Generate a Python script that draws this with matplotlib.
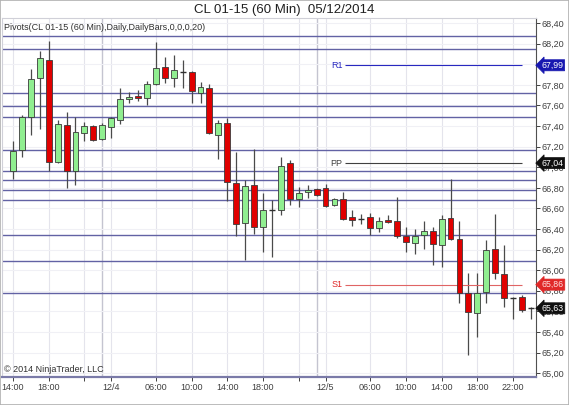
import matplotlib
matplotlib.use('Agg')
import matplotlib.pyplot as plt
import matplotlib.transforms as mtransforms
from matplotlib.patches import Rectangle

plt.rcParams['font.family'] = ['Liberation Sans', 'DejaVu Sans']

# hourly bars, 12/3 14:00 -> 12/5 22:00
opens = [66.96, 67.17, 67.49, 67.87, 68.04, 67.05, 67.41, 66.96, 67.33, 67.40,
         67.27, 67.39, 67.46, 67.66, 67.69, 67.67, 67.81, 67.97, 67.87, 67.92,
         67.92, 67.72, 67.77, 67.31, 67.43, 66.85, 66.46, 66.83, 66.42, 66.58,
         66.58, 67.04, 66.69, 66.76, 66.79, 66.80, 66.63, 66.69, 66.52, 66.50,
         66.52, 66.41, 66.49, 66.48, 66.33, 66.26, 66.34, 66.38, 66.24, 66.51,
         66.30, 65.78, 65.58, 65.79, 66.21, 65.96, 65.73, 65.74, 65.63]
highs = [67.25, 67.51, 67.95, 68.13, 68.23, 67.46, 67.54, 67.49, 67.44, 67.41,
         67.43, 67.49, 67.77, 67.73, 67.75, 67.84, 68.22, 68.07, 68.09, 68.04,
         67.93, 67.83, 67.81, 67.46, 67.48, 67.15, 66.88, 67.18, 66.75, 66.68,
         67.10, 67.07, 66.81, 66.83, 66.80, 66.84, 66.70, 66.76, 66.58, 66.55,
         66.56, 66.52, 66.54, 66.71, 66.42, 66.40, 66.48, 66.42, 66.54, 66.89,
         66.48, 65.97, 65.97, 66.29, 66.55, 66.24, 65.74, 65.76, 65.64]
lows = [66.89, 67.10, 67.31, 67.37, 66.96, 67.04, 66.80, 66.83, 67.25, 67.25,
        67.26, 67.28, 67.42, 67.62, 67.64, 67.60, 67.80, 67.82, 67.78, 67.77,
        67.62, 67.62, 67.32, 67.08, 66.67, 66.33, 66.10, 66.35, 66.18, 66.13,
        66.54, 66.63, 66.61, 66.70, 66.72, 66.61, 66.62, 66.49, 66.43, 66.45,
        66.34, 66.37, 66.46, 66.31, 66.18, 66.16, 66.21, 66.05, 66.03, 66.29,
        65.68, 65.18, 65.35, 65.68, 65.91, 65.64, 65.53, 65.59, 65.53]
closes = [67.16, 67.49, 67.86, 68.06, 67.05, 67.42, 66.96, 67.34, 67.40, 67.26,
          67.41, 67.48, 67.66, 67.68, 67.67, 67.81, 67.96, 67.87, 67.94, 67.92,
          67.74, 67.78, 67.33, 67.43, 66.86, 66.45, 66.82, 66.42, 66.58, 66.58,
          67.01, 66.69, 66.75, 66.78, 66.73, 66.62, 66.69, 66.50, 66.49, 66.50,
          66.41, 66.48, 66.47, 66.33, 66.27, 66.33, 66.38, 66.25, 66.50, 66.30,
          65.78, 65.59, 65.78, 66.20, 65.97, 65.73, 65.73, 65.61, 65.63]

# drawn horizontal lines
hlines = [68.27, 68.15, 67.72, 67.59, 67.49, 67.17, 66.96, 66.88, 66.78,
          66.68, 66.34, 66.09, 65.78]

# pivots for the current day
r1 = 67.99
pp = 67.04
s1 = 65.86
last_price = 65.63

tick_pos = [0, 4, 8, 11, 16, 20, 24, 28, 32, 35, 40, 44, 48, 52, 56]
tick_labels = ['14:00', '18:00', '', '12/4', '06:00', '10:00', '14:00', '18:00',
               '', '12/5', '06:00', '10:00', '14:00', '18:00', '22:00']
day_breaks = [10, 34]

y_ticks = [65.0 + 0.2 * k for k in range(18)]

fig = plt.figure(figsize=(5.69, 4.05), dpi=100)
ax = fig.add_axes([2 / 569, 28 / 405, 534 / 569, 359 / 405])
ax.set_xlim(-1.23, 58.57)
ax.set_ylim(64.963, 68.449)

# grid
for t in tick_pos:
    ax.axvline(t, color='#e4e4ec', lw=0.8, zorder=0)
for d in day_breaks:
    ax.axvline(d, color='#c4c4d0', lw=1.0, zorder=0)
for yv in y_ticks:
    ax.axhline(yv, color='#f0f0f5', lw=0.8, zorder=0)

for h in hlines:
    ax.axhline(h, color='#6262a4', lw=1.0, zorder=1)

# candles
n = len(opens)
xs = list(range(n))
ax.vlines(xs, lows, highs, color='#4a4a4a', lw=0.9, zorder=2)
for i in xs:
    o, c = opens[i], closes[i]
    if abs(c - o) < 0.005:
        ax.hlines(o, i - 0.33, i + 0.33, color='#303030', lw=1.0, zorder=3)
        continue
    fc = '#90ee90' if c > o else '#e00000'
    ax.bar(i, c - o, bottom=o, width=0.66, color=fc, edgecolor='#3a3a3a',
           lw=0.6, zorder=3)

# pivot segments
x0, x1 = 37.2, 57.0
ax.hlines(r1, x0, x1, color='#2828c0', lw=0.8, zorder=2)
ax.hlines(pp, x0, x1, color='#404040', lw=0.8, zorder=2)
ax.hlines(s1, x0, x1, color='#e06464', lw=0.8, zorder=2)
ax.text(x0 - 0.3, r1, 'R1', color='#2828c0', fontsize=6.5, ha='right', va='center')
ax.text(x0 - 0.3, pp, 'PP', color='#404040', fontsize=6.5, ha='right', va='center')
ax.text(x0 - 0.3, s1, 'S1', color='#e02828', fontsize=6.5, ha='right', va='center')

# axes styling
ax.yaxis.tick_right()
ax.set_yticks(y_ticks)
ax.set_yticklabels([f'{v:.2f}'.replace('.', ',') for v in y_ticks])
ax.set_xticks(tick_pos)
ax.set_xticklabels(tick_labels)
ax.tick_params(axis='y', length=3, width=0.7, pad=1, labelsize=6.5,
               colors='#404040')
ax.tick_params(axis='x', length=3, width=0.7, pad=1, labelsize=6.5,
               colors='#404040')
for side in ['top', 'left']:
    ax.spines[side].set_color('#d0d0d8')
    ax.spines[side].set_linewidth(0.8)
ax.spines['right'].set_color('#505050')
ax.spines['right'].set_linewidth(0.8)
ax.spines['bottom'].set_color('#7a7aa8')
ax.spines['bottom'].set_linewidth(1.6)

ax.text(0.003, 0.985, 'Pivots(CL 01-15 (60 Min),Daily,DailyBars,0,0,0,20)',
        transform=ax.transAxes, fontsize=6.5, color='#303030', va='top')
ax.text(0.003, 0.008, '\u00a9 2014 NinjaTrader, LLC', transform=ax.transAxes,
        fontsize=6.5, color='#303030', va='bottom')

# price markers on the axis
trans = mtransforms.blended_transform_factory(ax.transAxes, ax.transData)
markers = [(r1, '#1818b0', 'white'), (pp, '#101010', 'white'),
           (s1, '#e02828', '#ffe0e0'), (last_price, '#101010', 'white')]
for val, fc, tc in markers:
    ax.text(1.0105, val, f'{val:.2f}'.replace('.', ','), transform=trans,
            fontsize=6.3, color=tc, ha='left', va='center', clip_on=False,
            zorder=10,
            bbox=dict(boxstyle='larrow,pad=0.12', fc=fc, ec=fc, lw=0.5))

fig.text(0.5, 0.975, 'CL 01-15 (60 Min)  05/12/2014', ha='center', va='center',
         fontsize=9.5, color='#202020')

fig.patches.append(Rectangle((0, 0), 1, 1, transform=fig.transFigure,
                             fill=False, ec='#b0b0b0', lw=1.2))

fig.savefig('out.png', dpi=100)
